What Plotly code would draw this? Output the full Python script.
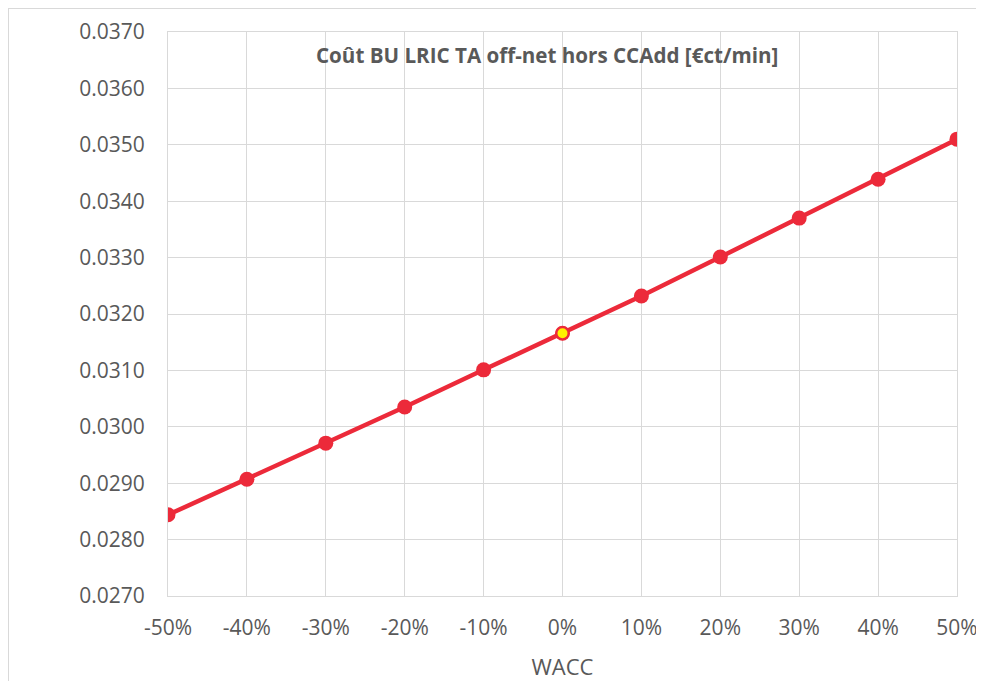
import plotly.graph_objects as go

wacc = [-0.5, -0.4, -0.3, -0.2, -0.1, 0.0, 0.1, 0.2, 0.3, 0.4, 0.5]
cost = [0.02844, 0.02907, 0.02971, 0.03035, 0.03101, 0.03166, 0.03232, 0.03301, 0.03370, 0.03439, 0.03510]
x_ticks = [-0.5, -0.4, -0.3, -0.2, -0.1, 0.0, 0.1, 0.2, 0.3, 0.4, 0.5]
x_labels = ["-50%", "-40%", "-30%", "-20%", "-10%", "0%", "10%", "20%", "30%", "40%", "50%"]
y_ticks = [0.027, 0.028, 0.029, 0.030, 0.031, 0.032, 0.033, 0.034, 0.035, 0.036, 0.037]
y_labels = ["%.4f" % v for v in y_ticks]
title_text = "Coût BU LRIC TA off-net hors CCAdd [€ct/min]"
x_title = "WACC"
base_index = 5

RED = "#EC2A3A"
GRAY = "#595959"
GRID = "#D9D9D9"
FONT = "Open Sans"

fig = go.Figure()
fig.add_trace(go.Scatter(
    x=wacc, y=cost, mode="lines+markers",
    line=dict(color=RED, width=4.5),
    marker=dict(color=RED, size=15, line=dict(width=0)),
    showlegend=False, hoverinfo="x+y",
))
fig.add_trace(go.Scatter(
    x=[wacc[base_index]], y=[cost[base_index]], mode="markers",
    marker=dict(color="#FFF200", size=12, line=dict(color=RED, width=2)),
    showlegend=False,
))

# page body has an 8px margin, so the figure is offset by 8px
fig.update_layout(
    width=976, height=673,
    margin=dict(l=160, r=27, t=24, b=85),
    paper_bgcolor="white", plot_bgcolor="white",
    font=dict(family=FONT, color=GRAY),
    xaxis=dict(
        range=[-0.5, 0.5], tickvals=x_ticks, ticktext=x_labels,
        automargin=False, ticklabeloverflow="allow",
        showgrid=True, gridcolor=GRID, gridwidth=1,
        showline=True, linecolor=GRID, linewidth=1, mirror=True,
        zeroline=False, ticks="", ticklen=0, ticklabelstandoff=13,
        tickfont=dict(family=FONT, size=21, color=GRAY),
        title=dict(text=x_title, font=dict(family=FONT, size=22, color=GRAY), standoff=19),
    ),
    yaxis=dict(
        range=[0.027, 0.037], tickvals=y_ticks, ticktext=y_labels,
        automargin=False, ticklabeloverflow="allow",
        showgrid=True, gridcolor=GRID, gridwidth=1,
        showline=True, linecolor=GRID, linewidth=1, mirror=True,
        zeroline=False, ticks="", ticklen=0, ticklabelstandoff=18,
        tickfont=dict(family=FONT, size=21, color=GRAY),
    ),
    annotations=[dict(
        text="<b>" + title_text + "</b>", xref="paper", yref="paper",
        x=0.48, y=0.959, xanchor="center", yanchor="middle", showarrow=False,
        font=dict(family=FONT, size=20.6, color=GRAY),
    )],
    shapes=[
        dict(type="line", xref="paper", yref="paper", x0=-160/789, x1=1.1, y0=1 + 24/564, y1=1 + 24/564,
             line=dict(color=GRID, width=2)),
        dict(type="line", xref="paper", yref="paper", x0=-160/789, x1=-160/789, y0=-0.2, y1=1 + 24/564,
             line=dict(color=GRID, width=2)),
    ],
)

fig.write_html("out.html")
